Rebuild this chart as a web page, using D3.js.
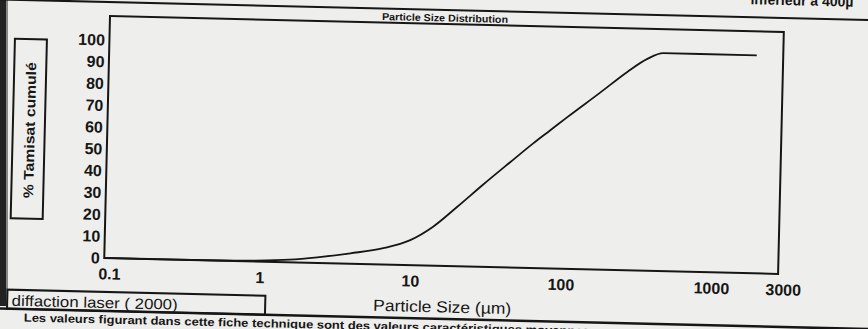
<!DOCTYPE html>
<html>
<head>
<meta charset="utf-8">
<script src="https://cdn.jsdelivr.net/npm/d3@7"></script>
<style>
  html, body { margin: 0; padding: 0; background: #eeeeec; }
  svg { display: block; }
</style>
</head>
<body>
<div id="chart"></div>
<script>
// ---- data ----
const sizes   = [0.1, 0.3, 0.6, 1.0, 1.7, 2.6, 4.3, 7.1, 10.7, 15.1, 21.7, 32, 47.9, 67.7, 87.5, 113, 185, 278, 376, 479, 843, 2000];
const tamisat = [0,   0,   0.1, 0.4, 1.2, 2.6, 4.8, 7.5, 11.5, 17.9, 27.3, 37.8, 48.3, 57.2, 63.4, 69.6, 81.2, 91.0, 97.2, 100, 100, 100];
const xTicks  = [0.1, 1, 10, 100, 1000, 3000];
const xTickLabels = ["0.1", "1", "10", "100", "1000", "3000"];
const yTicks  = [0, 10, 20, 30, 40, 50, 60, 70, 80, 90, 100];
const chartTitle = "Particle Size Distribution";
const xTitle = "Particle Size (µm)";
const yTitle = "% Tamisat cumulé";
const methodLabel = "diffaction laser ( 2000)";
const footNote = "Les valeurs figurant dans cette fiche technique sont des valeurs caractéristiques moyennes";
const headNote = "inférieur à 400µ";

// ---- layout ----
const W = 868, H = 329;
const plot = { left: 110, top: 16, right: 784, bottom: 258 };
const ink = "#161616";
const font = "'Liberation Sans', Arial, sans-serif";

const svg = d3.select("#chart").append("svg")
  .attr("width", W).attr("height", H);

svg.append("rect").attr("width", W).attr("height", H).attr("fill", "#eeeeec");

// scanned-page left edge shadow (not rotated)
svg.append("rect").attr("x", 0).attr("y", 0).attr("width", 6).attr("height", 306).attr("fill", "#222");
svg.append("rect").attr("x", 6).attr("y", 0).attr("width", 2).attr("height", 306).attr("fill", "#888");

// the scan is slightly rotated clockwise
const g = svg.append("g").attr("transform", `rotate(1.36, ${plot.left}, ${plot.top})`);

const x = d3.scaleLog().domain([0.1, 3000]).range([plot.left, plot.right]);
const y = d3.scaleLinear().domain([0, 111]).range([plot.bottom, plot.top]);

// page frame lines
g.append("line").attr("x1", -20).attr("x2", 900).attr("y1", 2).attr("y2", 2)
  .attr("stroke", ink).attr("stroke-width", 2);
g.append("line").attr("x1", -20).attr("x2", 900).attr("y1", 311).attr("y2", 311)
  .attr("stroke", ink).attr("stroke-width", 2.5);

// header note (cut at top, as on the scan)
g.append("text").attr("x", 750).attr("y", -11).attr("font-family", font)
  .attr("font-weight", "bold").attr("font-size", 14).attr("fill", ink).text(headNote);

// chart title
g.append("text").attr("x", 382).attr("y", 13.5).attr("font-family", font)
  .attr("font-weight", "bold").attr("font-size", 10).attr("fill", ink)
  .attr("textLength", 126).attr("lengthAdjust", "spacingAndGlyphs").text(chartTitle);

// plot box
g.append("rect").attr("x", plot.left).attr("y", plot.top)
  .attr("width", plot.right - plot.left).attr("height", plot.bottom - plot.top)
  .attr("fill", "none").attr("stroke", ink).attr("stroke-width", 2);

// y axis
const yAxis = g.append("g").attr("transform", `translate(${plot.left},0)`)
  .call(d3.axisLeft(y).tickValues(yTicks).tickSize(0).tickPadding(4.5).tickFormat(d3.format("d")));
yAxis.select(".domain").remove();
yAxis.selectAll("text").attr("font-family", font).attr("font-size", 16).attr("font-weight", "bold").attr("fill", ink);

// x axis
const xAxis = g.append("g").attr("transform", `translate(0,${plot.bottom})`)
  .call(d3.axisBottom(x).tickValues(xTicks).tickSize(0).tickPadding(10)
    .tickFormat((d, i) => xTickLabels[i]));
xAxis.select(".domain").remove();
xAxis.selectAll("text").attr("font-family", font).attr("font-size", 16).attr("font-weight", "bold")
  .attr("fill", ink).attr("dx", 5);

// x title
g.append("text").attr("x", 449).attr("y", 304.5).attr("text-anchor", "middle")
  .attr("font-family", font).attr("font-size", 16).attr("fill", ink)
  .attr("textLength", 138).attr("lengthAdjust", "spacingAndGlyphs").text(xTitle);

// y title box
g.append("rect").attr("x", 15.5).attr("y", 41).attr("width", 32).attr("height", 179.5)
  .attr("fill", "none").attr("stroke", ink).attr("stroke-width", 2);
g.append("text").attr("transform", "translate(32.5,132) rotate(-90)")
  .attr("text-anchor", "middle").attr("dy", "0.35em")
  .attr("font-family", font).attr("font-size", 14).attr("font-weight", "bold").attr("fill", ink)
  .attr("textLength", 136).attr("lengthAdjust", "spacingAndGlyphs").text(yTitle);

// method label box
g.append("rect").attr("x", 14).attr("y", 292).attr("width", 258).attr("height", 19)
  .attr("fill", "none").attr("stroke", ink).attr("stroke-width", 2);
g.append("text").attr("x", 18.5).attr("y", 308).attr("font-family", font).attr("font-size", 15)
  .attr("fill", ink).attr("textLength", 166).attr("lengthAdjust", "spacingAndGlyphs").text(methodLabel);

// foot note (cut by page edge, as on the scan)
g.append("text").attr("x", 31).attr("y", 323.5).attr("font-family", font).attr("font-size", 11.5)
  .attr("font-weight", "bold").attr("fill", ink)
  .attr("textLength", 566).attr("lengthAdjust", "spacingAndGlyphs").text(footNote);

// curve
const pts = sizes.map((s, i) => [s, tamisat[i]]);
g.append("path").datum(pts)
  .attr("fill", "none").attr("stroke", ink).attr("stroke-width", 1.8)
  .attr("stroke-linejoin", "round")
  .attr("d", d3.line().x(d => x(d[0])).y(d => y(d[1])).curve(d3.curveMonotoneX));
</script>
</body>
</html>
